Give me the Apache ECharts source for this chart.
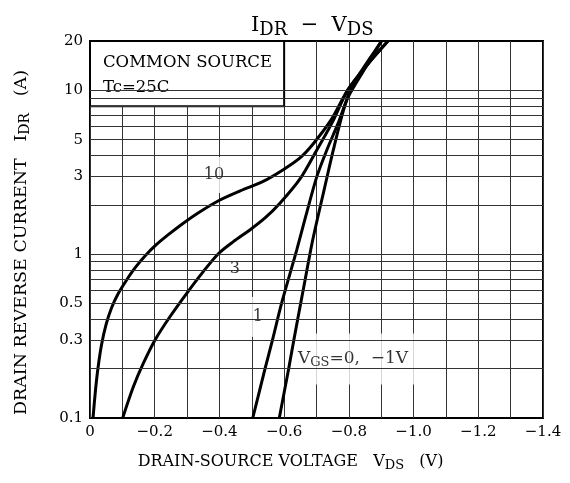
<!DOCTYPE html>
<html><head><meta charset="utf-8">
<script src="https://cdn.jsdelivr.net/npm/echarts@6/dist/echarts.min.js"></script>
<style>html,body{margin:0;padding:0;background:#fff}#c{width:570px;height:483px}</style>
</head><body><div id="c"></div>
<script>
// ---- data (V_DS in volts, I_DR in amperes) ----
const vgs10V = [-0.0093,-0.0170,-0.0247,-0.0355,-0.0494,-0.0664,-0.0865,-0.1112,-0.1391,-0.170,-0.204,-0.241,-0.281,-0.334,-0.396,-0.464,-0.532,-0.596,-0.649,-0.692,-0.745,-0.797,-0.859,-0.921];
const vgs10I = [0.1,0.148,0.202,0.279,0.370,0.469,0.571,0.686,0.824,0.975,1.138,1.310,1.508,1.784,2.112,2.431,2.759,3.266,3.867,4.774,6.597,10.06,14.49,20];
const vgs3V  = [-0.101,-0.134,-0.165,-0.201,-0.247,-0.299,-0.350,-0.396,-0.443,-0.494,-0.541,-0.587,-0.649,-0.701,-0.748,-0.797,-0.859,-0.921];
const vgs3I  = [0.1,0.155,0.216,0.2995,0.415,0.577,0.782,1.003,1.192,1.405,1.663,2.045,2.878,4.326,6.324,10.06,14.49,20];
const vgs1V  = [-0.503,-0.541,-0.564,-0.592,-0.639,-0.667,-0.701,-0.732,-0.766,-0.798,-0.847,-0.901];
const vgs1I  = [0.1,0.2,0.2995,0.5,1.061,1.711,2.972,4.326,6.236,9.115,13.32,20];
const vgs0V  = [-0.585,-0.614,-0.630,-0.651,-0.665,-0.682,-0.695,-0.723,-0.752,-0.782,-0.807,-0.837,-0.868,-0.901];
const vgs0I  = [0.1,0.2,0.2995,0.5,0.700,1.061,1.405,2.442,4.326,7.382,10.34,12.95,15.99,20];

const xTickLabels = [0,-0.2,-0.4,-0.6,-0.8,-1.0,-1.2,-1.4];
const yTickLabels = [0.1,0.3,0.5,1,3,5,10,20];
const yGridValues = [0.2,0.3,0.4,0.5,0.6,0.7,0.8,0.9,1,2,3,4,5,6,7,8,9,10];

const curveLabelText = ['10','3','1','{v|V}{s|GS}{v|=0,  \u22121V}'];
const curveLabelV = [-0.383,-0.448,-0.519,-0.621];
const curveLabelI = [3.04,0.818,0.414,0.229];

const boxV = [0,-0.6];
const boxI = [8,20];
const boxText = 'COMMON SOURCE\nTc=25C';

// ---- chart ----
const FONT = 'DejaVu Serif';
const zip = (a,b) => a.map((v,i) => [v,b[i]]);
const curveStyle = {type:'line', showSymbol:false, smooth:0.3, z:3, silent:true,
  lineStyle:{color:'#000', width:3}, itemStyle:{color:'#000'}};
const labelPads = [[10,7],[10,8],[12,5],[15,7]];
const labelAligns = ['center','center','center','left'];

const chart = echarts.init(document.getElementById('c'), null, {renderer:'canvas'});
chart.setOption({
  animation:false,
  backgroundColor:'#fff',
  title:{
    text:'{m|I}{s|DR}{m|  \u2212  V}{s|DS}',
    left:246, top:7,
    textStyle:{fontFamily:FONT, color:'#000', fontWeight:'normal',
      rich:{m:{fontFamily:FONT, fontSize:21, color:'#000'},
            s:{fontFamily:FONT, fontSize:18, color:'#000', padding:[9,0,0,0]}}}
  },
  grid:{left:90, right:27, top:41, bottom:65, show:true, borderColor:'#000', borderWidth:2},
  xAxis:{
    type:'value', min:-1.4, max:0, interval:0.1, inverse:true,
    name:'DRAIN-SOURCE VOLTAGE   V{s|DS}   (V)', nameLocation:'middle', nameGap:33,
    nameTextStyle:{fontFamily:FONT, fontSize:16, color:'#000', padding:[0,52,0,0],
      rich:{s:{fontFamily:FONT, fontSize:13, color:'#000', padding:[8,0,0,0]}}},
    axisLine:{show:false}, axisTick:{show:false},
    axisLabel:{customValues:xTickLabels, fontFamily:FONT, fontSize:15, color:'#000', margin:7,
      formatter:v => Math.abs(v) < 1e-9 ? '0' : '\u2212' + Math.abs(v).toFixed(1)},
    splitLine:{show:true, lineStyle:{color:'#333', width:1}}
  },
  yAxis:{
    type:'log', logBase:10, min:0.1, max:20,
    name:'DRAIN REVERSE CURRENT   I{s|DR}   (A)', nameLocation:'middle', nameGap:58, nameRotate:90,
    nameTextStyle:{fontFamily:FONT, fontSize:17.5, color:'#000', padding:[0,26,0,0],
      rich:{s:{fontFamily:FONT, fontSize:14, color:'#000', padding:[8,0,0,0]}}},
    axisLine:{show:false}, axisTick:{show:false},
    axisLabel:{customValues:yTickLabels, fontFamily:FONT, fontSize:15, color:'#000', margin:7,
      formatter:v => String(+Number(v).toPrecision(3))},
    splitLine:{show:false}
  },
  series:[
    {type:'line', data:[], z:1, silent:true,
      markLine:{silent:true, symbol:['none','none'], animation:false, label:{show:false},
        lineStyle:{color:'#333', width:1, type:'solid'},
        data:yGridValues.map(v => ({yAxis:v}))}},
    {type:'scatter', z:2, silent:true, symbol:'circle', symbolSize:1,
      itemStyle:{color:'rgba(0,0,0,0)'},
      data:curveLabelV.map((v,i) => ({value:[v, curveLabelI[i]],
        label:{show:true, position:'inside', formatter:curveLabelText[i],
          align:labelAligns[i], verticalAlign:'middle',
          backgroundColor:'#fff', padding:labelPads[i],
          fontFamily:FONT, fontSize:16, color:'#000',
          rich:{v:{fontFamily:FONT, fontSize:17, color:'#000'},
                s:{fontFamily:FONT, fontSize:13, color:'#000', padding:[8,0,0,0]}}}})),
      markArea:{silent:true,
        itemStyle:{color:'#fff', borderColor:'#000', borderWidth:2},
        label:{show:true, position:'insideTopLeft', distance:0, formatter:boxText,
          fontFamily:FONT, fontSize:16.5, lineHeight:25, color:'#000', padding:[10,0,0,14]},
        data:[[{xAxis:boxV[0], yAxis:boxI[1]},{xAxis:boxV[1], yAxis:boxI[0]}]]}},
    Object.assign({name:'10', data:zip(vgs10V,vgs10I)}, curveStyle),
    Object.assign({name:'3', data:zip(vgs3V,vgs3I)}, curveStyle),
    Object.assign({name:'1', data:zip(vgs1V,vgs1I)}, curveStyle),
    Object.assign({name:'0,-1', data:zip(vgs0V,vgs0I)}, curveStyle)
  ]
});
</script></body></html>
